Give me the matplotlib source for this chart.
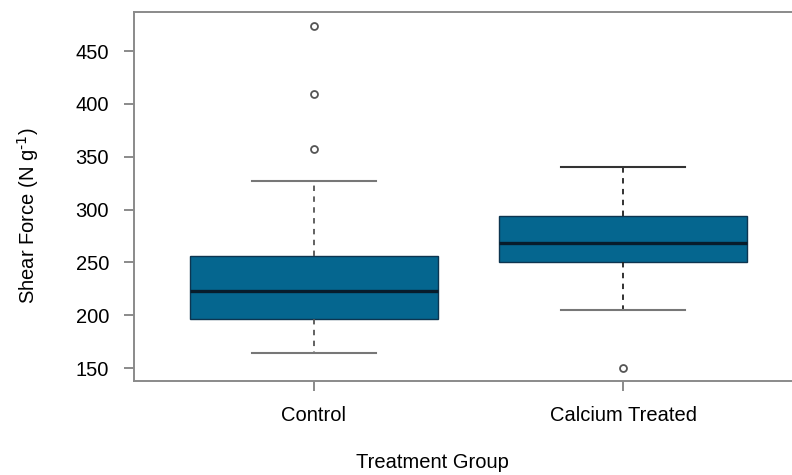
import matplotlib
matplotlib.use("Agg")
import matplotlib.pyplot as plt

plt.rcParams['font.family'] = ['Liberation Sans', 'DejaVu Sans']

groups = ["Control", "Calcium Treated"]
whislo = [164, 205]
q1 = [196, 250]
med = [223, 268]
q3 = [256, 294]
whishi = [327, 340]
fliers = [[357, 409, 474], [150]]
yticks = [150, 200, 250, 300, 350, 400, 450]

fig = plt.figure(figsize=(7.92, 4.75), dpi=100)
ax = fig.add_axes([134 / 792, 1 - 381 / 475, (803 - 134) / 792, (381 - 12) / 475])

stats = []
for i, g in enumerate(groups):
    stats.append(dict(label=g, whislo=whislo[i], q1=q1[i], med=med[i],
                      q3=q3[i], whishi=whishi[i], fliers=fliers[i]))

positions = list(range(1, len(groups) + 1))
bp = ax.bxp(stats, positions=positions, widths=0.8, patch_artist=True,
            boxprops=dict(facecolor="#05668f", edgecolor="#0d3550", linewidth=1.0),
            medianprops=dict(color="#081c2b", linewidth=2.4, solid_capstyle="butt"),
            whiskerprops=dict(color="#555555", linewidth=1.3, linestyle=(0, (3, 3))),
            capprops=dict(color="#777777", linewidth=1.5),
            flierprops=dict(marker="o", markersize=5, markerfacecolor="white",
                            markeredgecolor="#555555", markeredgewidth=1.3),
            capwidths=0.4, manage_ticks=False)

for w in bp["whiskers"][2:]:
    w.set_color("#222222")
bp["caps"][3].set_color("#333333")

ax.set_xlim(0.42, 2.58)
ax.set_ylim(137.7, 487)
ax.set_xticks(positions)
ax.set_xticklabels(groups)
ax.set_yticks(yticks)
ax.set_yticklabels([str(t) for t in yticks])

for s in ax.spines.values():
    s.set_color("#8a8a8a")
    s.set_linewidth(1.4)
ax.spines["right"].set_visible(False)

ax.tick_params(axis="both", direction="out", length=7, width=1.2, color="#777777",
               labelsize=14.5, labelcolor="black")
ax.tick_params(axis="y", pad=11)
ax.tick_params(axis="x", pad=11)

fig.text(28 / 792, 1 - 216 / 475, r"Shear Force (N g$^{\text{-}1}$)", rotation=90,
         ha="center", va="center", fontsize=14.5)
fig.text(432 / 792, 1 - 462 / 475, "Treatment Group", ha="center", va="center",
         fontsize=14.5)

fig.savefig("out.png", dpi=100)
